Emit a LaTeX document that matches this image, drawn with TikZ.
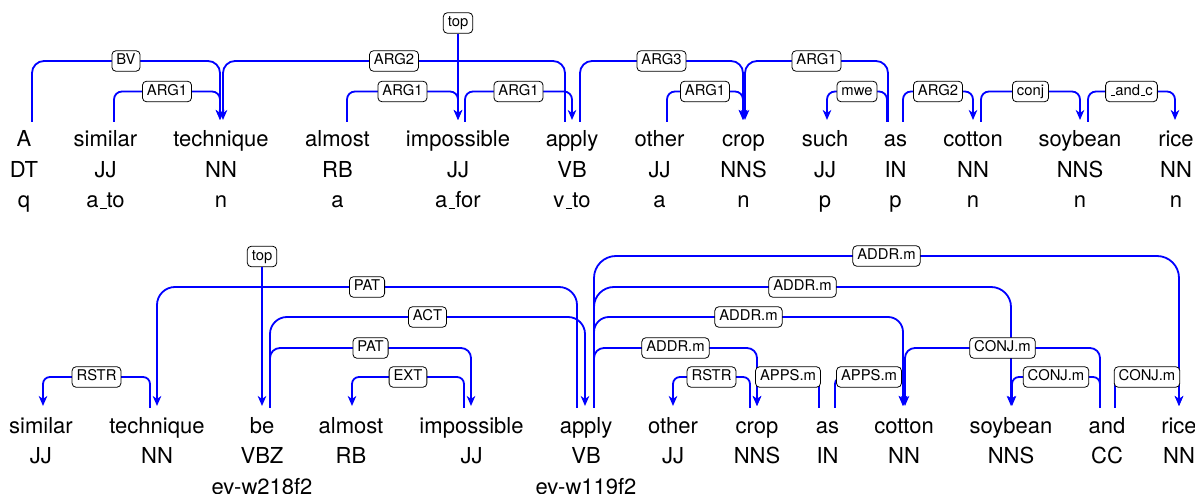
\documentclass[tikz,border=0pt]{standalone}
\usepackage{fontspec}
\setmainfont{TeX Gyre Heros}
\usetikzlibrary{arrows.meta}
\newcommand\usc{\leavevmode\kern.06em\vbox{\hrule width.3em}}
\tikzset{
  w/.style={inner sep=0pt,outer sep=0pt,anchor=base,font=\fontsize{22}{26}\selectfont,text height=16pt,text depth=5pt},
  lab/.style={draw=black,line width=0.8pt,fill=white,rounded corners=4pt,font=\fontsize{14.8}{17}\selectfont,inner xsep=4.5pt,inner ysep=3.5pt,text height=10.5pt,text depth=3pt},
  dep/.style={draw=blue,line width=1.8pt,-{Stealth[length=10pt,width=8.5pt,inset=3pt]}},
}
\newcommand\depe[7]{%
  \coordinate (s) at ([xshift=#2pt,yshift=9pt]#1.north);
  \coordinate (e) at ([xshift=#4pt,yshift=11pt]#3.north);
  \draw[dep,rounded corners=#6pt] (s) -- (s |- 0,#5) -- node[lab]{#7} (e |- 0,#5) -- (e);
}
\begin{document}
\begin{tikzpicture}[x=1pt,y=-1pt]
\fill[white] (0,0) rectangle (1195,494);
\useasboundingbox (0,0) rectangle (1195,494);
% top sentence
\foreach \nm/\xx/\wrd/\tgg/\rll in {a1/24/A/DT/q, a2/105.5/similar/JJ/a\usc to, a3/221/technique/NN/n, a4/337.5/almost/RB/a, a5/458/impossible/JJ/a\usc for, a6/572/apply/VB/v\usc to, a7/659.5/other/JJ/a, a8/743.5/crop/NNS/n, a9/825/such/JJ/p, a10/895.5/as/IN/p, a11/973/cotton/NN/n, a12/1080/soybean/NNS/n, a13/1176/rice/NN/n}{
  \node[w] (\nm) at (\xx,147) {\wrd};
  \node[w] (\nm-t) at (\xx,178) {\tgg};
  \node[w] (\nm-r) at (\xx,208) {\rll};
}
% bottom sentence
\foreach \nm/\xx/\wrd/\tgg in {b1/41/similar/JJ, b2/157/technique/NN, b3/262/be/VBZ, b4/351/almost/RB, b5/471.5/impossible/JJ, b6/586/apply/VB, b7/673/other/JJ, b8/757/crop/NNS, b9/827.5/as/IN, b10/904/cotton/NN, b11/1011/soybean/NNS, b12/1107/and/CC, b13/1179/rice/NN}{
  \node[w] (\nm) at (\xx,433) {\wrd};
  \node[w] (\nm-t) at (\xx,463) {\tgg};
}
\node[w] (b3-r) at (262,494) {ev-w218f2};
\node[w] (b6-r) at (586,494) {ev-w119f2};

% top edges
\depe{a1}{8}{a3}{-1}{61}{12}{BV}
\depe{a2}{8.5}{a3}{-1}{91.5}{8}{ARG1}
\depe{a6}{-7}{a3}{2}{61}{12}{ARG2}
\depe{a4}{9.5}{a5}{0}{91.5}{8}{ARG1}
\depe{a5}{7}{a6}{0}{91.5}{8}{ARG1}
\depe{a6}{8}{a8}{-0.5}{61}{12}{ARG3}
\depe{a7}{7.5}{a8}{-0.5}{91.5}{8}{ARG1}
\depe{a10}{-7.5}{a8}{1.5}{61}{12}{ARG1}
\depe{a10}{-8.5}{a9}{2}{91.5}{8}{mwe}
\depe{a10}{7.5}{a11}{0}{91.5}{8}{ARG2}
\depe{a11}{8}{a12}{0}{91.5}{8}{conj}
\depe{a12}{8}{a13}{-1}{91.5}{8}{\usc and\usc c}
\node[lab] (top1) at (458,23) {top};
\draw[dep] (top1.south) -- ([yshift=11pt]a5.north);

% bottom edges
\depe{b2}{-7}{b1}{2}{377}{7}{RSTR}
\depe{b6}{-9}{b2}{0}{287}{18}{PAT}
\depe{b3}{8}{b6}{-1}{317}{17}{ACT}
\depe{b3}{8}{b5}{-0.5}{348}{10}{PAT}
\depe{b5}{-7.5}{b4}{1}{377}{7}{EXT}
\depe{b6}{8}{b13}{0}{256}{22}{ADDR.m}
\depe{b6}{8}{b11}{0}{287}{20}{ADDR.m}
\depe{b6}{8}{b10}{-1}{317}{15}{ADDR.m}
\depe{b6}{8}{b8}{0}{348}{10}{ADDR.m}
\depe{b8}{-7}{b7}{0}{377}{7}{RSTR}
\depe{b9}{-8.5}{b8}{0}{377}{7}{APPS.m}
\depe{b9}{7.5}{b10}{-1}{377}{7}{APPS.m}
\depe{b12}{-7}{b10}{1}{348}{10}{CONJ.m}
\depe{b12}{-7}{b11}{1}{377}{7}{CONJ.m}
\depe{b12}{8}{b13}{0}{377}{7}{CONJ.m}
\node[lab] (top2) at (262,256.5) {top};
\draw[dep] (top2.south) -- ([yshift=11pt]b3.north);
\end{tikzpicture}
\end{document}
